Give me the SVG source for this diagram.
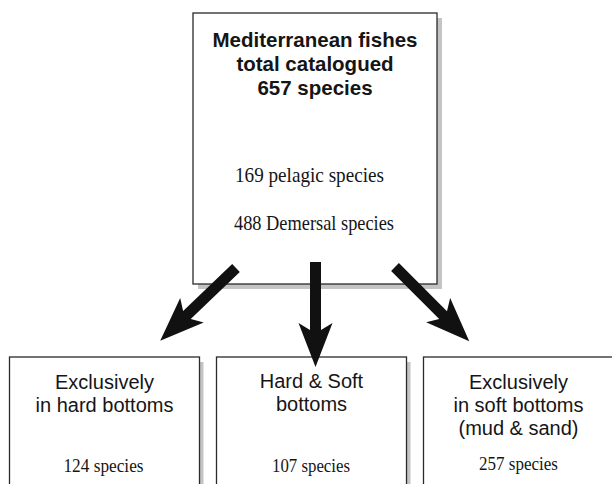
<svg xmlns="http://www.w3.org/2000/svg" xmlns:xlink="http://www.w3.org/1999/xlink" width="612" height="484" viewBox="0 0 612 484">
<style>
.box{fill:#ffffff;stroke:#2a2a2a;stroke-width:1.3}
.shadow{fill:#c4c4c4}
.title{font-family:"Liberation Sans",Arial,sans-serif;font-weight:bold;font-size:20.5px;fill:#151515;text-anchor:middle}
.lbl{font-family:"Liberation Sans",Arial,sans-serif;font-size:20px;fill:#151515;text-anchor:middle}
.ser{font-family:"Liberation Serif","Times New Roman",serif;font-size:21.5px;fill:#151515;text-anchor:middle}
.ser2{font-family:"Liberation Serif","Times New Roman",serif;font-size:19.5px;fill:#151515;text-anchor:middle}
.arrow{fill:#111111}
</style>
<defs>
<path id="arr" d="M0,-5.5 L68,-5.5 L61,-17 L105,0 L61,17 L68,5.5 L0,5.5 Z"/>
</defs>
<rect width="612" height="484" fill="#ffffff"/>
<g id="top">
<rect class="shadow" x="198" y="18" width="244" height="271"/>
<rect class="box" x="193" y="13" width="244" height="271"/>
<text class="title" x="315" y="47">Mediterranean fishes</text>
<text class="title" x="315" y="71">total catalogued</text>
<text class="title" x="315" y="95">657 species</text>
<text class="ser" x="309.5" y="182" textLength="149" lengthAdjust="spacingAndGlyphs">169 pelagic species</text>
<text class="ser" x="314" y="230" textLength="160" lengthAdjust="spacingAndGlyphs">488 Demersal species</text>
</g>
<g id="hard">
<rect class="shadow" x="13.5" y="362" width="190" height="140"/>
<rect class="box" x="9.5" y="357" width="190" height="140"/>
<text class="lbl" x="104.5" y="389">Exclusively</text>
<text class="lbl" x="104.5" y="412">in hard bottoms</text>
<text class="ser2" x="103.5" y="472" textLength="80" lengthAdjust="spacingAndGlyphs">124 species</text>
</g>
<g id="both">
<rect class="shadow" x="220.5" y="362" width="190" height="140"/>
<rect class="box" x="216.5" y="357" width="190" height="140"/>
<text class="lbl" x="311.5" y="388">Hard &amp; Soft</text>
<text class="lbl" x="311.5" y="411">bottoms</text>
<text class="ser2" x="311" y="472" textLength="78" lengthAdjust="spacingAndGlyphs">107 species</text>
</g>
<g id="soft">
<rect class="shadow" x="427.5" y="362" width="190" height="140"/>
<rect class="box" x="423.5" y="357" width="190" height="140"/>
<text class="lbl" x="518.5" y="389">Exclusively</text>
<text class="lbl" x="518.5" y="412">in soft bottoms</text>
<text class="lbl" x="518.5" y="435">(mud &amp; sand)</text>
<text class="ser2" x="518.5" y="470" textLength="79" lengthAdjust="spacingAndGlyphs">257 species</text>
</g>
<g id="connectors" class="arrow">
<use xlink:href="#arr" href="#arr" transform="translate(236,268) rotate(136.2)"/>
<use xlink:href="#arr" href="#arr" transform="translate(315.5,262) rotate(90)"/>
<use xlink:href="#arr" href="#arr" transform="translate(395,267) rotate(45)"/>
</g>
</svg>
